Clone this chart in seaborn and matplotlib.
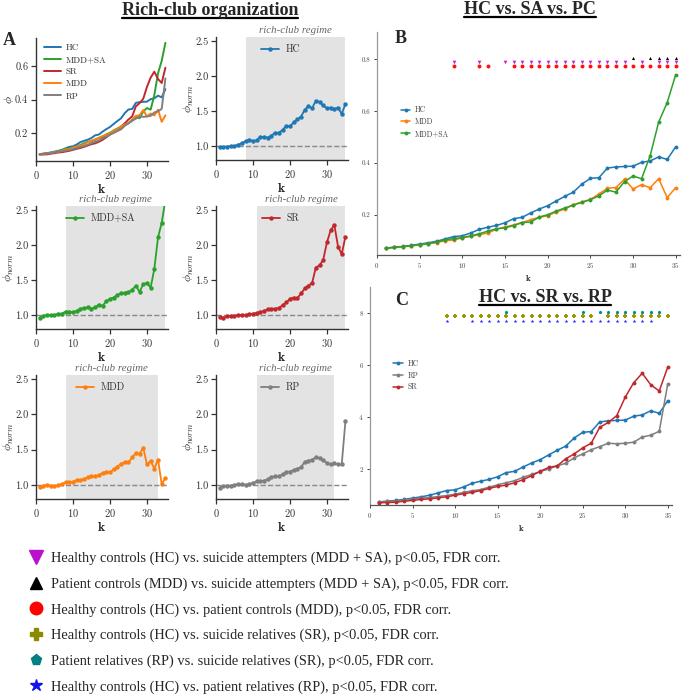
import matplotlib
matplotlib.use("Agg")
import matplotlib.pyplot as plt
from matplotlib.lines import Line2D
from matplotlib.ticker import FormatStrFormatter, FixedLocator
import pandas as pd
import seaborn as sns

# ---------------- data ----------------
k = list(range(1, 36))

hc_phi = [0.073, 0.076, 0.079, 0.083, 0.088, 0.093, 0.099, 0.108, 0.117, 0.120,
          0.131, 0.145, 0.153, 0.160, 0.170, 0.186, 0.191, 0.208, 0.223, 0.236,
          0.254, 0.272, 0.288, 0.319, 0.341, 0.344, 0.381, 0.385, 0.387, 0.388,
          0.403, 0.408, 0.424, 0.414, 0.463]
mdd_phi = [0.072, 0.075, 0.078, 0.081, 0.085, 0.089, 0.094, 0.101, 0.104, 0.112,
           0.118, 0.124, 0.131, 0.145, 0.154, 0.162, 0.171, 0.182, 0.191, 0.197,
           0.212, 0.223, 0.240, 0.250, 0.260, 0.281, 0.303, 0.306, 0.338, 0.300,
           0.317, 0.305, 0.340, 0.267, 0.306]
sa_phi = [0.072, 0.075, 0.078, 0.082, 0.086, 0.090, 0.096, 0.105, 0.109, 0.113,
          0.120, 0.128, 0.138, 0.147, 0.151, 0.159, 0.171, 0.173, 0.192, 0.201,
          0.215, 0.227, 0.238, 0.249, 0.259, 0.274, 0.296, 0.288, 0.329, 0.350,
          0.340, 0.428, 0.558, 0.633, 0.741]
sr_phi = [0.070, 0.071, 0.072, 0.076, 0.079, 0.083, 0.085, 0.089, 0.093, 0.099,
          0.105, 0.110, 0.117, 0.125, 0.133, 0.138, 0.147, 0.159, 0.174, 0.191,
          0.206, 0.212, 0.239, 0.258, 0.281, 0.299, 0.360, 0.379, 0.405, 0.476,
          0.532, 0.568, 0.524, 0.500, 0.592]
rp_phi = [0.074, 0.075, 0.077, 0.080, 0.084, 0.088, 0.090, 0.094, 0.098, 0.103,
          0.110, 0.116, 0.121, 0.130, 0.139, 0.147, 0.155, 0.168, 0.179, 0.190,
          0.200, 0.212, 0.222, 0.243, 0.258, 0.274, 0.286, 0.299, 0.297, 0.299,
          0.303, 0.323, 0.330, 0.345, 0.527]

# panel C values (as printed on its axis)
hc_C = [0.73, 0.76, 0.79, 0.83, 0.88, 0.93, 0.99, 1.08, 1.17, 1.20,
        1.31, 1.45, 1.53, 1.60, 1.70, 1.86, 1.91, 2.08, 2.23, 2.36,
        2.54, 2.72, 2.88, 3.19, 3.41, 3.44, 3.81, 3.85, 3.87, 3.88,
        4.03, 4.08, 4.24, 4.14, 4.63]
sr_C = [0.70, 0.71, 0.72, 0.76, 0.79, 0.83, 0.85, 0.89, 0.93, 0.99,
        1.05, 1.10, 1.17, 1.25, 1.33, 1.38, 1.47, 1.59, 1.74, 1.91,
        2.06, 2.12, 2.39, 2.58, 2.81, 2.99, 3.60, 3.79, 4.05, 4.76,
        5.32, 5.68, 5.24, 5.00, 5.92]
rp_C = [0.74, 0.75, 0.77, 0.80, 0.84, 0.88, 0.90, 0.94, 0.98, 1.03,
        1.10, 1.16, 1.21, 1.30, 1.39, 1.47, 1.55, 1.68, 1.79, 1.90,
        2.00, 2.12, 2.22, 2.43, 2.58, 2.74, 2.86, 2.99, 2.97, 2.99,
        3.03, 3.23, 3.30, 3.45, 5.27]

hc_norm = [0.98, 0.99, 0.99, 1.00, 1.00, 1.02, 1.04, 1.07, 1.09, 1.07,
           1.08, 1.13, 1.13, 1.12, 1.15, 1.19, 1.19, 1.23, 1.29, 1.28,
           1.34, 1.38, 1.42, 1.52, 1.57, 1.54, 1.65, 1.63, 1.58, 1.54,
           1.55, 1.53, 1.55, 1.46, 1.60]
sa_norm = [0.96, 0.99, 1.00, 1.00, 1.00, 1.02, 1.02, 1.05, 1.05, 1.04,
           1.06, 1.09, 1.10, 1.11, 1.09, 1.11, 1.15, 1.13, 1.20, 1.23,
           1.25, 1.29, 1.31, 1.32, 1.33, 1.36, 1.42, 1.33, 1.44, 1.46,
           1.39, 1.66, 2.11, 2.32, 2.65]
sr_norm = [0.97, 0.96, 0.98, 0.99, 0.99, 1.00, 1.00, 1.00, 1.01, 1.02,
           1.03, 1.04, 1.06, 1.08, 1.09, 1.09, 1.10, 1.14, 1.18, 1.23,
           1.25, 1.24, 1.31, 1.38, 1.42, 1.46, 1.68, 1.71, 1.79, 2.04,
           2.21, 2.29, 1.98, 1.87, 2.12]
mdd_norm = [0.97, 0.99, 1.00, 0.99, 0.98, 1.00, 1.01, 1.04, 1.04, 1.04,
            1.07, 1.07, 1.08, 1.11, 1.12, 1.12, 1.14, 1.17, 1.18, 1.18,
            1.22, 1.26, 1.30, 1.32, 1.32, 1.39, 1.45, 1.44, 1.53, 1.29,
            1.34, 1.23, 1.36, 1.01, 1.10]
rp_norm = [0.96, 0.98, 0.99, 0.99, 1.00, 1.01, 1.01, 1.00, 1.01, 1.03,
           1.05, 1.05, 1.06, 1.08, 1.11, 1.12, 1.12, 1.15, 1.18, 1.19,
           1.21, 1.23, 1.25, 1.33, 1.34, 1.36, 1.39, 1.38, 1.35, 1.31,
           1.29, 1.31, 1.29, 1.29, 1.90]

# rich-club regimes (start k, end k)
regime_hc = (8, 35)
regime_sa = (8, 35)
regime_sr = (11, 35)
regime_mdd = (8, 33)
regime_rp = (11, 32)

# significant k values
sig_hc_sa = [9, 12] + list(range(15, 30)) + [31, 33, 34, 35]
sig_mdd_sa = [30, 32, 33, 34, 35]
sig_hc_mdd = [9, 12, 13] + list(range(16, 36))
sig_hc_sr = list(range(9, 27)) + list(range(28, 36))
sig_rp_sr = [16, 25] + list(range(27, 35))
sig_hc_rp = [9] + list(range(12, 34))

legend_texts = [
    "Healthy controls (HC) vs. suicide attempters (MDD + SA), p<0.05, FDR corr.",
    "Patient controls (MDD) vs. suicide attempters (MDD + SA), p<0.05, FDR corr.",
    "Healthy controls (HC) vs. patient controls (MDD), p<0.05, FDR corr.",
    "Healthy controls (HC) vs. suicide relatives (SR), p<0.05, FDR corr.",
    "Patient relatives (RP) vs. suicide relatives (SR), p<0.05, FDR corr.",
    "Healthy controls (HC) vs. patient relatives (RP), p<0.05, FDR corr.",
]

# ---------------- style ----------------
C_HC, C_MDD, C_SA, C_SR, C_RP = "#1f77b4", "#ff7f0e", "#2ca02c", "#c0282d", "#7f7f7f"

sns.set_style("ticks")
plt.rcParams["font.family"] = "serif"
plt.rcParams["font.serif"] = ["cmr10"]
plt.rcParams["mathtext.fontset"] = "cm"
plt.rcParams["axes.formatter.use_mathtext"] = True
plt.rcParams["axes.unicode_minus"] = False

W, H = 685, 695
fig = plt.figure(figsize=(W / 100, H / 100), dpi=100)


def box(x0, y0, x1, y1):
    return [x0 / W, 1 - y1 / H, (x1 - x0) / W, (y1 - y0) / H]


def style_A(ax):
    for s in ["top", "right"]:
        ax.spines[s].set_visible(False)
    for s in ["left", "bottom"]:
        ax.spines[s].set_color("#333333")
        ax.spines[s].set_linewidth(1.0)
    ax.tick_params(labelsize=7.5, length=3.5, width=0.9, colors="#333333", pad=2)
    ax.set_xlim(0, 35.7)
    ax.xaxis.set_major_locator(FixedLocator([0, 10, 20, 30]))
    ax.set_xlabel(r"$\mathbf{k}$", fontsize=10, labelpad=1.5)


# ---- A1 ----
ax1 = fig.add_axes(box(36, 38, 168, 161))
dfA = pd.DataFrame({"k": k * 5,
                    "phi": hc_phi + sa_phi + sr_phi + mdd_phi + rp_phi,
                    "grp": ["HC"] * 35 + ["MDD+SA"] * 35 + ["SR"] * 35 + ["MDD"] * 35 + ["RP"] * 35})
sns.lineplot(data=dfA, x="k", y="phi", hue="grp",
             palette={"HC": C_HC, "MDD+SA": C_SA, "SR": C_SR, "MDD": C_MDD, "RP": C_RP},
             linewidth=1.4, ax=ax1)
ax1.set_ylim(0.032, 0.77)
ax1.yaxis.set_major_locator(FixedLocator([0.2, 0.4, 0.6]))
ax1.yaxis.set_major_formatter(FormatStrFormatter("%.1f"))
style_A(ax1)
ax1.set_ylabel(r"$\phi$", fontsize=8.5)
ax1.yaxis.set_label_coords(-0.155, 0.5)
leg = ax1.legend(loc="upper left", frameon=False, fontsize=6.5, handlelength=1.9,
                 handletextpad=0.5, labelspacing=0.42, borderaxespad=0.2,
                 bbox_to_anchor=(0.02, 1.0))
for t in leg.get_texts():
    t.set_color("#333333")

# ---- normalized panels ----
norm_specs = [
    ((216, 37, 348, 160), hc_norm, C_HC, "HC", regime_hc),
    ((36, 206, 168, 329), sa_norm, C_SA, "MDD+SA", regime_sa),
    ((216, 206, 348, 329), sr_norm, C_SR, "SR", regime_sr),
    ((36, 375, 168, 499), mdd_norm, C_MDD, "MDD", regime_mdd),
    ((216, 375, 348, 499), rp_norm, C_RP, "RP", regime_rp),
]
for rect, vals, col, lab, reg in norm_specs:
    ax = fig.add_axes(box(*rect))
    ax.axvspan(reg[0], reg[1], color="#e3e3e3", zorder=0, lw=0)
    ax.axhline(1.0, color="#888888", ls="--", lw=1.0, zorder=1)
    sns.lineplot(x=k, y=vals, color=col, marker="o", markersize=3.2,
                 markeredgewidth=0, linewidth=1.3, label=lab, ax=ax)
    ax.set_ylim(0.8, 2.56)
    ax.yaxis.set_major_locator(FixedLocator([1.0, 1.5, 2.0, 2.5]))
    ax.yaxis.set_major_formatter(FormatStrFormatter("%.1f"))
    style_A(ax)
    ax.set_ylabel(r"$\phi_{norm}$", fontsize=8.5)
    ax.yaxis.set_label_coords(-0.155, 0.5)
    ax.text((reg[0] + reg[1]) / 2, 1.015, "rich-club regime", transform=ax.get_xaxis_transform(),
            ha="center", va="bottom", fontsize=7.8, style="italic", color="#666666",
            family="Liberation Serif")
    lg = ax.legend(loc="upper center", frameon=False, fontsize=7.2, handlelength=1.8,
                   handletextpad=0.7, borderaxespad=0.35, bbox_to_anchor=(0.49, 1.0))
    for t in lg.get_texts():
        t.set_color("#333333")


def style_BC(ax):
    for s in ["top", "right"]:
        ax.spines[s].set_visible(False)
    ax.spines["left"].set_color("#999999")
    ax.spines["bottom"].set_color("#555555")
    for s in ["left", "bottom"]:
        ax.spines[s].set_linewidth(0.9)
    ax.tick_params(labelsize=5, length=2.5, width=0.7, colors="#444444", pad=2)
    ax.xaxis.set_major_locator(FixedLocator(list(range(0, 36, 5))))
    ax.set_xlabel(r"$\mathbf{k}$", fontsize=6.5, labelpad=2)
    ax.set_ylabel("")


# ---- B ----
axB = fig.add_axes(box(377, 32, 680, 255))
for vals, col, lab in [(hc_phi, C_HC, "HC"), (mdd_phi, C_MDD, "MDD"), (sa_phi, C_SA, "MDD+SA")]:
    sns.lineplot(x=k, y=vals, color=col, marker="o", markersize=2.8, markeredgewidth=0,
                 linewidth=1.1, label=lab, ax=axB)
sns.scatterplot(x=sig_hc_sa, y=[0.79] * len(sig_hc_sa), marker="v", color="#cc22cc",
                s=7, linewidth=0, ax=axB, legend=False)
sns.scatterplot(x=sig_mdd_sa, y=[0.806] * len(sig_mdd_sa), marker="^", color="black",
                s=5, linewidth=0, ax=axB, legend=False)
sns.scatterplot(x=sig_hc_mdd, y=[0.774] * len(sig_hc_mdd), marker="o", color="#ff1111",
                s=8, linewidth=0, ax=axB, legend=False)
axB.set_xlim(0, 35.5)
axB.set_ylim(0.046, 0.905)
axB.yaxis.set_major_locator(FixedLocator([0.2, 0.4, 0.6, 0.8]))
axB.yaxis.set_major_formatter(FormatStrFormatter("%.1f"))
style_BC(axB)
lgB = axB.legend(loc="upper left", bbox_to_anchor=(0.055, 0.70), frameon=False, fontsize=5.5,
                 handlelength=1.3, handletextpad=0.6, labelspacing=0.45)
for t in lgB.get_texts():
    t.set_color("#444444")

# ---- C ----
axC = fig.add_axes(box(370, 287, 672, 505))
for vals, col, lab in [(hc_C, C_HC, "HC"), (rp_C, C_RP, "RP"), (sr_C, C_SR, "SR")]:
    sns.lineplot(x=k, y=vals, color=col, marker="o", markersize=2.8, markeredgewidth=0,
                 linewidth=1.1, label=lab, ax=axC)
sns.scatterplot(x=sig_rp_sr, y=[8.04] * len(sig_rp_sr), marker="p", color="#008b8b",
                s=7, linewidth=0, ax=axC, legend=False)
sns.scatterplot(x=sig_hc_sr, y=[7.88] * len(sig_hc_sr), marker="P", color="#9a9a00",
                s=7, linewidth=0, ax=axC, legend=False)
sns.scatterplot(x=sig_hc_rp, y=[7.70] * len(sig_hc_rp), marker="*", color="#2222ff",
                s=8, linewidth=0, ax=axC, legend=False)
axC.set_xlim(0, 35.5)
axC.set_ylim(0.615, 9.0)
axC.yaxis.set_major_locator(FixedLocator([2, 4, 6, 8]))
style_BC(axC)
lgC = axC.legend(loc="upper left", bbox_to_anchor=(0.055, 0.70), frameon=False, fontsize=5.5,
                 handlelength=1.3, handletextpad=0.6, labelspacing=0.45)
for t in lgC.get_texts():
    t.set_color("#444444")

# ---------------- titles & letters ----------------
renderer = fig.canvas.get_renderer()


def utitle(xc, ybase, s, size):
    t = fig.text(xc / W, 1 - ybase / H, s, ha="center", va="baseline", fontsize=size,
                 fontweight="bold", family="Liberation Serif")
    bb = t.get_window_extent(renderer=renderer)
    yl = 1 - (ybase + 2.5) / H
    fig.add_artist(Line2D([bb.x0 / W, bb.x1 / W], [yl, yl], transform=fig.transFigure,
                          color="black", lw=1.6))


utitle(210, 15, "Rich-club organization", 13)
utitle(530, 14, "HC vs. SA vs. PC", 13)
utitle(545, 302, "HC vs. SR vs. RP", 13)

for xl, yb, s in [(3, 45, "A"), (395, 43, "B"), (395, 305, "C")]:
    fig.text(xl / W, 1 - yb / H, s, ha="left", va="baseline", fontsize=13,
             fontweight="bold", family="Liberation Serif")

# ---------------- bottom legend ----------------
handles = [
    Line2D([], [], ls="none", marker="v", color="#bb11cc", markersize=10),
    Line2D([], [], ls="none", marker="^", color="black", markersize=9),
    Line2D([], [], ls="none", marker="o", color="#ff0000", markersize=9),
    Line2D([], [], ls="none", marker="P", color="#8b8b00", markersize=8),
    Line2D([], [], ls="none", marker="p", color="#008080", markersize=8),
    Line2D([], [], ls="none", marker="*", color="#1111ee", markersize=9),
]
fig.legend(handles, legend_texts, loc="upper left", bbox_to_anchor=(29 / W, 1 - 552 / H),
           frameon=False, borderaxespad=0, borderpad=0, handlelength=1.0,
           handletextpad=0.55, labelspacing=0.84,
           prop={"family": "Liberation Serif", "size": 10.4})

fig.savefig("out.png", dpi=100)
